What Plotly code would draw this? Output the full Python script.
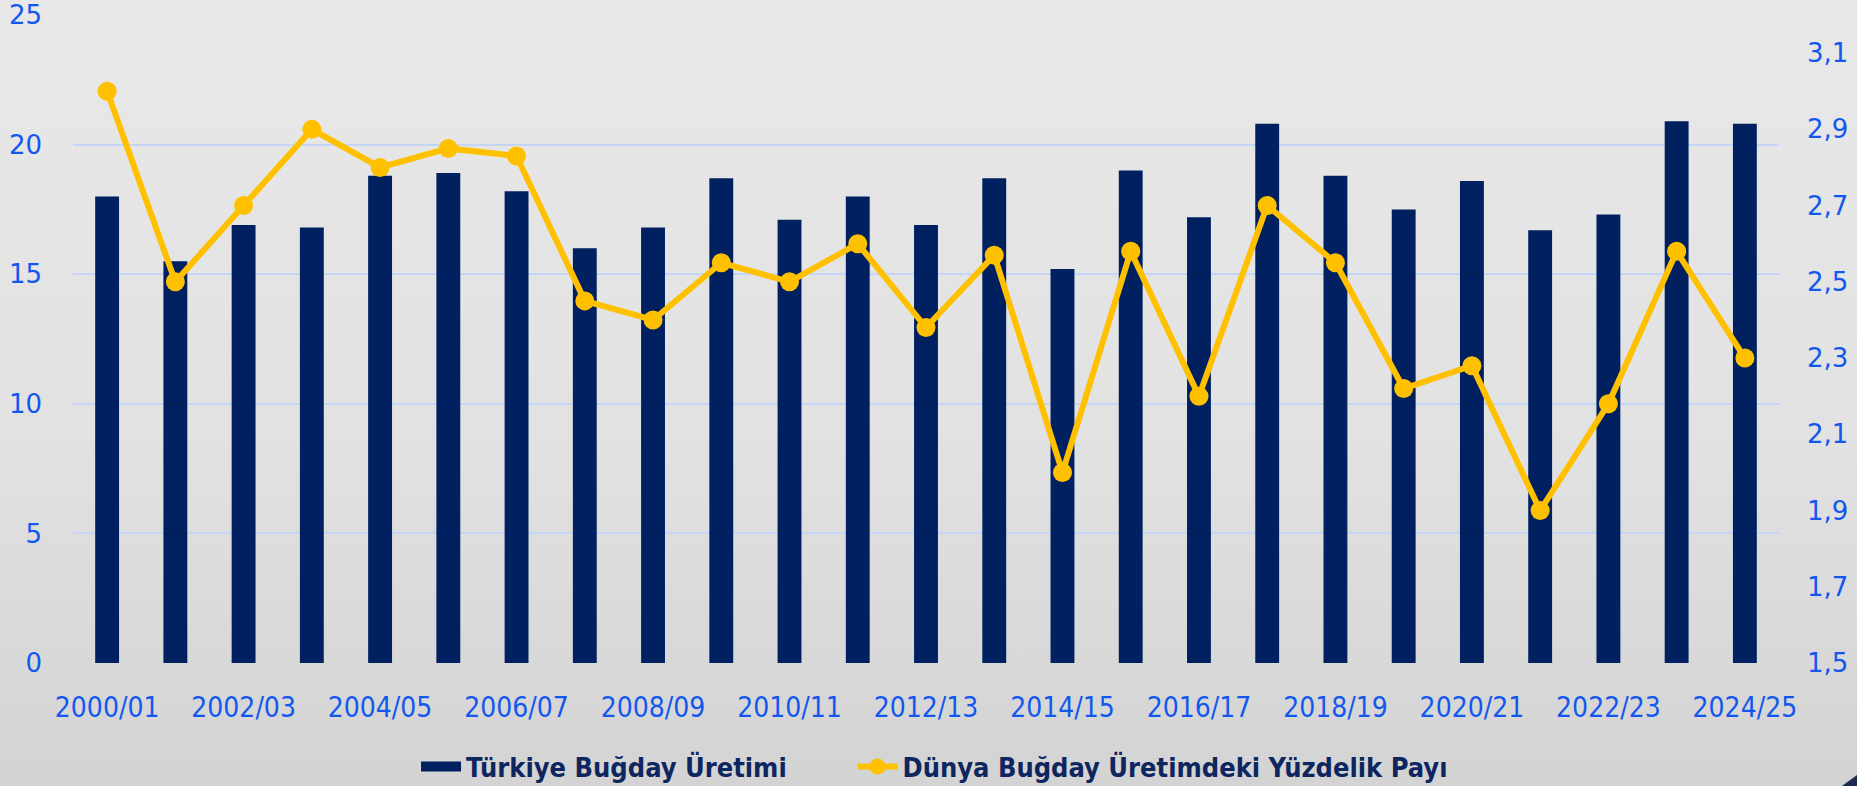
import base64
import plotly.graph_objects as go

categories = ["2000/01", "2001/02", "2002/03", "2003/04", "2004/05", "2005/06", "2006/07",
              "2007/08", "2008/09", "2009/10", "2010/11", "2011/12", "2012/13", "2013/14",
              "2014/15", "2015/16", "2016/17", "2017/18", "2018/19", "2019/20", "2020/21",
              "2021/22", "2022/23", "2023/24", "2024/25"]
production = [18.0, 15.5, 16.9, 16.8, 18.8, 18.9, 18.2, 16.0, 16.8, 18.7, 17.1, 18.0, 16.9,
              18.7, 15.2, 19.0, 17.2, 20.8, 18.8, 17.5, 18.6, 16.7, 17.3, 20.9, 20.8]
world_share = [3.0, 2.5, 2.7, 2.9, 2.8, 2.85, 2.83, 2.45, 2.40, 2.55, 2.50, 2.60, 2.38,
               2.57, 2.0, 2.58, 2.2, 2.7, 2.55, 2.22, 2.28, 1.9, 2.18, 2.58, 2.3]
x_tick_labels = categories[::2]
left_ticks = [0, 5, 10, 15, 20, 25]
right_ticks = [1.5, 1.7, 1.9, 2.1, 2.3, 2.5, 2.7, 2.9, 3.1]

BAR = "#002060"
GOLD = "#FFC000"
TICK_BLUE = "#1358EE"
GRID = "#C4D5F7"
LEGEND_TXT = "#0E2660"
COND = "DejaVu Sans Condensed, Liberation Sans Narrow, DejaVu Sans"

W, H = 1857, 786
ML, MR, MT, MB = 73, 78, 15, 123
PH = H - MT - MB

svg = ('<svg xmlns="http://www.w3.org/2000/svg" width="100" height="100" preserveAspectRatio="none">'
       '<defs><linearGradient id="g" x1="0" y1="0" x2="0" y2="1">'
       '<stop offset="0" stop-color="#E8E8E8"/><stop offset="0.55" stop-color="#E2E2E2"/>'
       '<stop offset="1" stop-color="#D3D3D3"/></linearGradient></defs>'
       '<rect width="100" height="100" fill="url(#g)"/></svg>')
bg_src = "data:image/svg+xml;base64," + base64.b64encode(svg.encode()).decode()

fig = go.Figure()
fig.add_trace(go.Bar(
    x=categories, y=production, name="Türkiye Buğday Üretimi",
    marker=dict(color=BAR, line=dict(width=0)), yaxis="y", showlegend=False,
))
# legend proxy for the bar series (wide rectangular swatch as in the original)
fig.add_trace(go.Scatter(
    x=[None], y=[None], name="Türkiye Buğday Üretimi\u2003\u2003\u2002", mode="lines",
    line=dict(color=BAR, width=20), showlegend=True, hoverinfo="skip",
))
fig.add_trace(go.Scatter(
    x=categories, y=world_share, name="Dünya Buğday Üretimdeki Yüzdelik Payı",
    mode="lines+markers", yaxis="y2",
    line=dict(color=GOLD, width=6),
    marker=dict(color=GOLD, size=19),
))

px_w = W - ML - MR
fig.update_layout(
    width=W, height=H,
    margin=dict(l=ML, r=MR, t=MT, b=MB, pad=0, autoexpand=False),
    separators=",.",
    paper_bgcolor="#DDDDDD",
    plot_bgcolor="rgba(0,0,0,0)",
    bargap=0.65,
    showlegend=True,
    legend=dict(orientation="h", x=0.505, xanchor="center", y=-(767 - (H - MB)) / PH,
                yanchor="middle", font=dict(family=COND, size=27, color=LEGEND_TXT, weight="bold"),
                bgcolor="rgba(0,0,0,0)", itemwidth=40, traceorder="normal"),
    xaxis=dict(
        type="category", tickmode="array", tickvals=x_tick_labels, ticktext=x_tick_labels,
        range=[-0.5, len(categories) - 0.5],
        tickfont=dict(family=COND, size=28, color=TICK_BLUE),
        showgrid=False, showline=False, zeroline=False, ticks="", ticklabelstandoff=25,
        tickangle=0, automargin=False,
    ),
    yaxis=dict(
        range=[0, 25], tickmode="array", tickvals=left_ticks,
        tickfont=dict(family="DejaVu Sans", size=26, color=TICK_BLUE),
        showgrid=True, gridcolor=GRID, gridwidth=2, zeroline=False, showline=False,
        ticks="", ticklabelstandoff=30, automargin=False,
    ),
    yaxis2=dict(
        range=[1.5, 3.2], tickmode="array", tickvals=right_ticks, overlaying="y", side="right",
        tickformat=".1f",
        tickfont=dict(family="DejaVu Sans", size=26, color=TICK_BLUE),
        showgrid=False, zeroline=False, showline=False, ticks="", ticklabelstandoff=27,
        automargin=False,
    ),
    images=[dict(source=bg_src, xref="paper", yref="paper",
                 x=-ML / px_w, y=1 + MT / PH, sizex=W / px_w, sizey=H / PH,
                 xanchor="left", yanchor="top", sizing="stretch", layer="below")],
    shapes=[dict(type="path", xref="paper", yref="paper",
                 path="M {a},{b} L {c},{b} L {c},{d} Z".format(
                     a=(1842 - ML) / px_w, b=-(H - (H - MB)) / PH,
                     c=(W - ML) / px_w, d=-(775 - (H - MB)) / PH),
                 fillcolor="#1B2A4E", line=dict(width=0), layer="above")],
)

fig.write_html("out.html", config={"displayModeBar": False},
               post_script="document.body.style.margin='0';document.body.style.overflow='hidden';")
